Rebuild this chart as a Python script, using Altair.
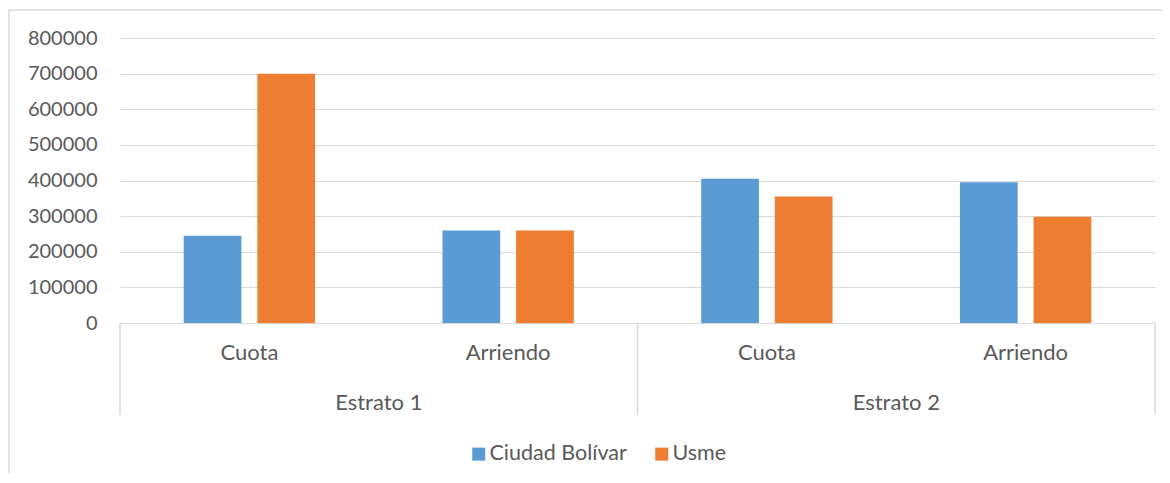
import altair as alt
import pandas as pd

# ---- data ----
estratos = ["Estrato 1", "Estrato 1", "Estrato 2", "Estrato 2"]
conceptos = ["Cuota", "Arriendo", "Cuota", "Arriendo"]
ciudad_bolivar = [245000, 260000, 405000, 395000]
usme = [700000, 260000, 355000, 298000]
series = ["Ciudad Bolívar", "Usme"]
colors = ["#5b9bd5", "#ed7d31"]
y_ticks = [0, 100000, 200000, 300000, 400000, 500000, 600000, 700000, 800000]
grupos = ["Estrato 1", "Estrato 2"]

cats = [f"{e}|{c}" for e, c in zip(estratos, conceptos)]
rows = []
for cat, v1, v2 in zip(cats, ciudad_bolivar, usme):
    rows.append({"cat": cat, "serie": series[0], "valor": v1})
    rows.append({"cat": cat, "serie": series[1], "valor": v2})
df = pd.DataFrame(rows)

FONT = "Lato"
TXT = "#595959"
GRID = "#d9d9d9"
W, H = 1035, 285

x_scale = alt.Scale(domain=cats, paddingInner=0, paddingOuter=0)

bars = alt.Chart(df).mark_bar().encode(
    x=alt.X("cat:N", sort=cats, scale=x_scale,
            axis=alt.Axis(title=None, labelExpr="split(datum.label, '|')[1]",
                          ticks=False, domainColor=GRID, labelPadding=19,
                          labelFontSize=22, labelColor=TXT, labelFont=FONT,
                          grid=False, labelAngle=0)),
    xOffset=alt.XOffset("serie:N", sort=series,
                        scale=alt.Scale(paddingInner=0.216, paddingOuter=0.865)),
    y=alt.Y("valor:Q", scale=alt.Scale(domain=[0, 800000], nice=False),
            axis=alt.Axis(values=y_ticks, format="d", title=None, domain=False,
                          ticks=False, gridColor=GRID, labelPadding=23,
                          labelFontSize=20, labelColor=TXT, labelFont=FONT)),
    color=alt.Color("serie:N", sort=series,
                    scale=alt.Scale(domain=series, range=colors),
                    legend=alt.Legend(title=None, orient="none", direction="horizontal",
                                      legendX=348, legendY=405,
                                      symbolType="square", symbolSize=169,
                                      symbolStrokeWidth=0,
                                      labelFontSize=21.5, labelColor=TXT, labelFont=FONT,
                                      labelOffset=0, columnPadding=24)),
)

sep_df = pd.DataFrame({"cat": cats})
sep_start = alt.Chart(sep_df).transform_filter(
    alt.FieldOneOfPredicate(field="cat", oneOf=[cats[0], cats[2]])
).mark_rule(color=GRID, strokeWidth=1.5).encode(
    x=alt.X("cat:N", sort=cats, bandPosition=0),
    y=alt.value(H), y2=alt.value(H + 92),
)
sep_end = alt.Chart(sep_df).transform_filter(
    alt.FieldEqualPredicate(field="cat", equal=cats[3])
).mark_rule(color=GRID, strokeWidth=1.5).encode(
    x=alt.X("cat:N", sort=cats, bandPosition=1),
    y=alt.value(H), y2=alt.value(H + 92),
)

grp_df = pd.DataFrame({"grupo": grupos, "cat": [cats[0], cats[2]]})
grp_text = alt.Chart(grp_df).mark_text(
    font=FONT, fontSize=22, color=TXT, baseline="middle", align="center"
).encode(
    x=alt.X("cat:N", sort=cats, bandPosition=1),
    y=alt.value(H + 80),
    text="grupo:N",
)

frame = alt.Chart(alt.Data(values=[{}])).mark_rect(
    fillOpacity=0, stroke=GRID, strokeWidth=1.5
).encode(
    x=alt.value(-111), x2=alt.value(1200),
    y=alt.value(-28), y2=alt.value(600),
)

chart = alt.layer(frame, bars, sep_start, sep_end, grp_text).properties(
    width=W, height=H,
    padding={"left": 112, "top": 30, "right": 7, "bottom": 150},
    autosize="none",
).configure_view(stroke=None)

chart.save("out.html", embed_options={"renderer": "svg", "actions": False})
